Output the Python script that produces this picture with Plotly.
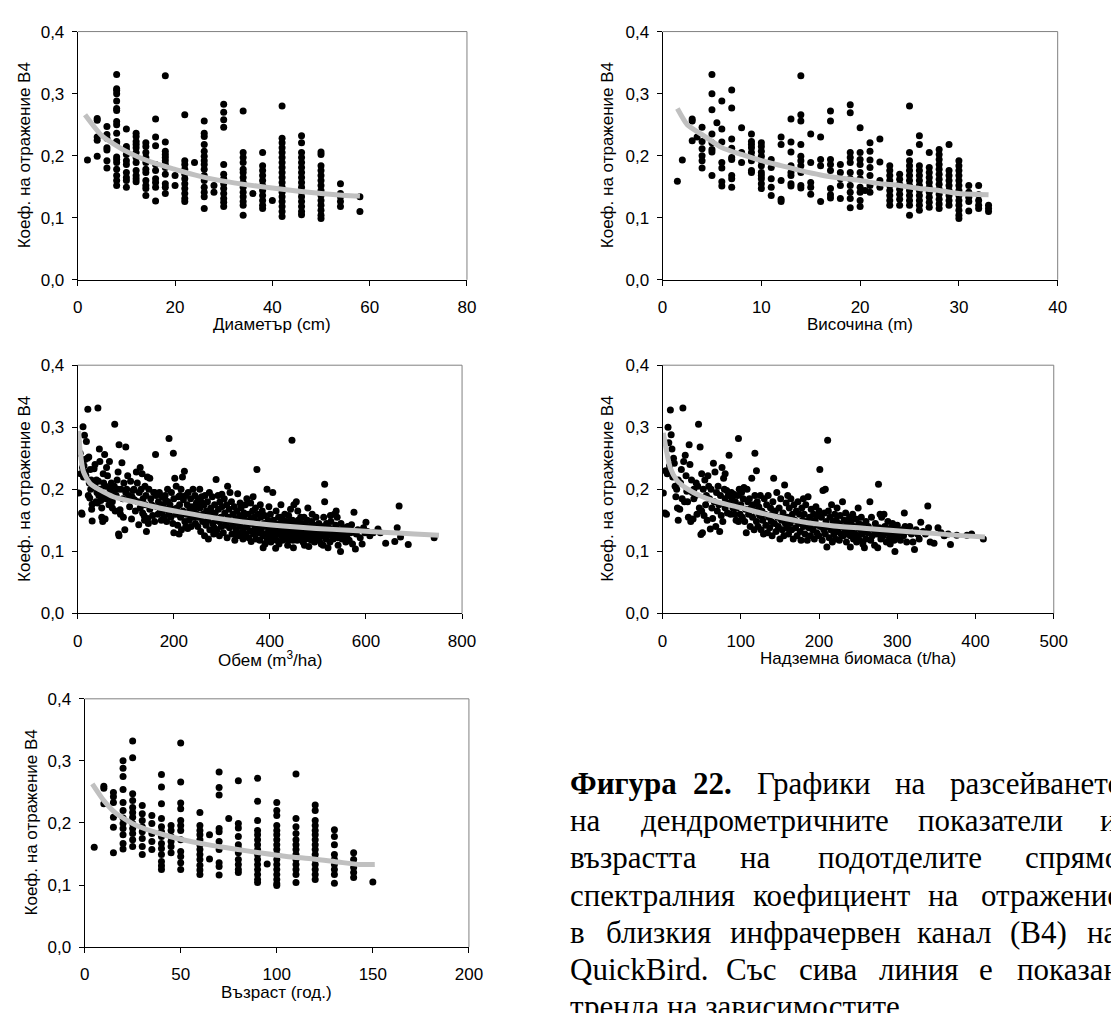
import plotly.graph_objects as go

W, H = 1111, 1013

# ---------------- DATA ----------------
# Panel 1: diameter (cm) columns
diam_cols = [2, 4, 6, 8, 10, 12, 14, 16, 18, 20, 22, 24, 26, 28, 30, 34, 36, 38, 40, 42, 46, 50, 54, 58]
diam_vals = [
    [0.193],
    [0.26, 0.257, 0.23, 0.225, 0.199],
    [0.247, 0.234, 0.228, 0.213, 0.209, 0.192, 0.18],
    [0.331, 0.308, 0.305, 0.30, 0.288, 0.276, 0.273, 0.255, 0.25, 0.236, 0.223, 0.221, 0.198, 0.194, 0.189, 0.178, 0.168, 0.16, 0.152],
    [0.243, 0.215, 0.21, 0.202, 0.192, 0.186, 0.173, 0.165, 0.16, 0.149],
    [0.236, 0.231, 0.223, 0.218, 0.213, 0.205, 0.197, 0.189, 0.176, 0.168, 0.163, 0.158],
    [0.221, 0.215, 0.205, 0.197, 0.189, 0.178, 0.173, 0.16, 0.152, 0.147, 0.136],
    [0.259, 0.23, 0.216, 0.186, 0.176, 0.163, 0.157, 0.149, 0.127],
    [0.329, 0.222, 0.207, 0.202, 0.197, 0.192, 0.186, 0.181, 0.17, 0.155, 0.149, 0.139],
    [0.168, 0.152],
    [0.266, 0.192, 0.186, 0.178, 0.17, 0.163, 0.155, 0.147, 0.139, 0.131, 0.126],
    [0.189],
    [0.256, 0.236, 0.231, 0.218, 0.207, 0.199, 0.192, 0.186, 0.178, 0.168, 0.16, 0.149, 0.141, 0.134, 0.115],
    [0.152, 0.141],
    [0.283, 0.27, 0.258, 0.246, 0.186, 0.17, 0.163, 0.155, 0.147, 0.139, 0.131, 0.125, 0.118],
    [0.272, 0.205, 0.197, 0.189, 0.178, 0.173, 0.165, 0.157, 0.149, 0.141, 0.134, 0.126, 0.12, 0.104],
    [0.139],
    [0.205, 0.184, 0.176, 0.168, 0.16, 0.152, 0.144, 0.136, 0.128, 0.12, 0.115],
    [0.128],
    [0.28, 0.228, 0.221, 0.213, 0.205, 0.197, 0.189, 0.181, 0.173, 0.165, 0.157, 0.149, 0.141, 0.134, 0.126, 0.118, 0.11, 0.102],
    [0.232, 0.221, 0.205, 0.197, 0.189, 0.181, 0.173, 0.165, 0.157, 0.149, 0.141, 0.134, 0.126, 0.118, 0.11, 0.105],
    [0.206, 0.202, 0.184, 0.176, 0.168, 0.16, 0.152, 0.144, 0.136, 0.128, 0.12, 0.112, 0.104, 0.099],
    [0.155, 0.139, 0.134, 0.126, 0.118],
    [0.134, 0.11],
]
diam_trend_x = [1.5, 5, 10, 15, 20, 25, 30, 35, 40, 45, 50, 55, 58]
diam_trend_y = [0.266, 0.232, 0.207, 0.19, 0.178, 0.167, 0.159, 0.153, 0.148, 0.143, 0.139, 0.136, 0.135]

# Panel 2: height (m) columns
height_cols = [1.5, 2, 3, 3.5, 4, 5, 5.5, 6, 7, 8, 9, 10, 11, 12, 13, 14, 15, 16, 17, 18, 19, 20, 20.5,
               21, 22, 23, 24, 25, 26, 27, 28, 29, 30, 31, 32, 33]
height_vals = [
    [0.159],
    [0.193],
    [0.259, 0.256, 0.224],
    [0.23],
    [0.246, 0.223, 0.211, 0.2, 0.192, 0.18],
    [0.331, 0.30, 0.274, 0.235, 0.221, 0.21, 0.206, 0.168],
    [0.253],
    [0.288, 0.243, 0.222, 0.189, 0.18, 0.158, 0.151],
    [0.306, 0.277, 0.227, 0.212, 0.197, 0.194, 0.168, 0.163, 0.149],
    [0.245, 0.205, 0.189],
    [0.235, 0.223, 0.218, 0.213, 0.205, 0.198, 0.192, 0.176, 0.173],
    [0.221, 0.215, 0.207, 0.199, 0.192, 0.184, 0.173, 0.168, 0.163, 0.155, 0.147],
    [0.194, 0.181, 0.163, 0.149, 0.136],
    [0.23, 0.218, 0.16, 0.13, 0.126],
    [0.259, 0.222, 0.206, 0.184, 0.173, 0.168, 0.155, 0.151],
    [0.329, 0.266, 0.256, 0.218, 0.199, 0.192, 0.184, 0.173, 0.152, 0.148],
    [0.235, 0.189, 0.157, 0.149, 0.138],
    [0.23, 0.194, 0.184, 0.126],
    [0.272, 0.256, 0.194, 0.186, 0.176, 0.147, 0.137, 0.132],
    [0.186, 0.173, 0.163, 0.152, 0.131],
    [0.282, 0.269, 0.205, 0.197, 0.189, 0.173, 0.163, 0.152, 0.141, 0.131, 0.116],
    [0.245, 0.205, 0.194, 0.186, 0.173, 0.163, 0.149, 0.141, 0.128, 0.118],
    [0.144],
    [0.221, 0.207, 0.193, 0.181, 0.168, 0.152, 0.141],
    [0.227, 0.19, 0.16, 0.149],
    [0.184, 0.176, 0.168, 0.16, 0.152, 0.144, 0.136, 0.128, 0.12],
    [0.17, 0.162, 0.154, 0.146, 0.138, 0.13, 0.12],
    [0.28, 0.205, 0.192, 0.184, 0.176, 0.168, 0.16, 0.152, 0.144, 0.136, 0.128, 0.12, 0.104],
    [0.232, 0.218, 0.184, 0.176, 0.168, 0.16, 0.152, 0.144, 0.136, 0.128, 0.12, 0.112],
    [0.205, 0.181, 0.173, 0.165, 0.157, 0.149, 0.141, 0.133, 0.125, 0.117],
    [0.21, 0.202, 0.194, 0.186, 0.178, 0.17, 0.162, 0.154, 0.146, 0.138, 0.13, 0.122, 0.115],
    [0.218, 0.176, 0.168, 0.16, 0.152, 0.144, 0.136, 0.128, 0.12],
    [0.192, 0.184, 0.176, 0.168, 0.16, 0.152, 0.144, 0.136, 0.128, 0.12, 0.112, 0.104, 0.099],
    [0.152, 0.141, 0.133, 0.126, 0.111],
    [0.152, 0.137, 0.128, 0.12, 0.115],
    [0.12, 0.115, 0.11],
]
height_trend_x = [1.5, 2.5, 4, 6, 8, 10, 12, 14, 16, 18, 20, 22, 24, 26, 28, 30, 33]
height_trend_y = [0.276, 0.25, 0.234, 0.213, 0.202, 0.192, 0.184, 0.176, 0.169, 0.164, 0.16, 0.155, 0.152, 0.147, 0.144, 0.139, 0.137]

# Panel 3: volume (m3/ha)
vol_x = [
    2, 5, 6, 8, 9, 10, 11, 12, 14, 15, 16, 18, 20, 21, 22, 23, 24, 26, 27, 28, 30, 30, 29, 25, 17, 13,
    32, 34, 36, 38, 40, 42, 43, 45, 46, 47, 48, 50, 50, 52, 53, 54, 55, 56, 57, 58, 60, 36, 41, 44, 59, 39,
    62, 64, 66, 67, 68, 70, 72, 74, 76, 77, 78, 80, 82, 84, 85, 86, 86, 88, 89, 90, 92, 94, 95, 96, 98, 100, 100, 72, 65, 83,
    102, 104, 106, 108, 110, 112, 115, 118, 120, 122, 124, 125, 127, 128, 130, 130, 132, 134, 135, 136, 138, 140, 141, 142, 143, 145, 146, 147, 148, 150, 150, 113, 117, 139,
    152, 154, 156, 158, 160, 162, 163, 165, 167, 168, 170, 172, 174, 176, 178, 180, 182, 184, 185, 187, 188, 190, 190, 192, 194, 195, 197, 198, 199, 200, 200, 160, 176, 183,
    202, 204, 205, 206, 208, 210, 211, 212, 214, 215, 216, 218, 219, 220, 222, 223, 225, 226, 228, 229, 230, 232, 233, 235, 236, 238, 240, 241, 243, 244, 245, 247, 248, 250, 250, 225, 213, 237, 246,
    252, 254, 255, 256, 258, 260, 261, 263, 264, 265, 267, 268, 270, 271, 272, 274, 275, 277, 278, 280, 281, 283, 285, 286, 288, 289, 290, 292, 293, 295, 296, 298, 299, 300, 300, 259, 276, 284, 294,
    302, 303, 305, 306, 308, 310, 311, 312, 313, 315, 316, 318, 320, 321, 323, 324, 326, 327, 329, 330, 331, 333, 334, 336, 337, 339, 340, 341, 343, 344, 346, 347, 349, 350, 350, 317, 328, 338, 345,
    352, 353, 355, 356, 358, 359, 360, 361, 363, 364, 366, 367, 369, 370, 371, 373, 373, 375, 376, 378, 379, 381, 382, 384, 385, 386, 388, 389, 391, 392, 394, 394, 396, 397, 398, 399, 400, 365, 380, 390,
    401, 402, 404, 405, 406, 407, 409, 410, 411, 413, 414, 415, 416, 418, 419, 420, 421, 423, 424, 425, 426, 428, 429, 430, 431, 433, 434, 435, 436, 438, 439, 440, 441, 443, 444, 445, 446, 447, 448, 449, 450, 450, 412, 422, 437, 442,
    452, 453, 455, 456, 457, 459, 460, 461, 463, 464, 465, 466, 468, 469, 470, 471, 473, 474, 475, 477, 478, 479, 480, 481, 483, 484, 486, 487, 489, 490, 492, 493, 495, 496, 497, 499, 500, 458, 472, 488,
    502, 503, 505, 507, 508, 510, 512, 514, 514, 515, 517, 518, 520, 521, 523, 525, 527, 528, 530, 532, 534, 535, 537, 538, 540, 541, 543, 545, 547, 548, 550, 511, 526, 542,
    553, 555, 558, 560, 562, 565, 568, 570, 572, 575, 578, 580, 583, 588, 592, 595, 598, 600, 603, 608, 615, 625, 630, 641, 660, 665, 669, 672, 688, 742,
]
vol_y = [
    0.194, 0.258, 0.225, 0.162, 0.16, 0.235, 0.301, 0.22, 0.287, 0.248, 0.228, 0.277, 0.25, 0.329, 0.19, 0.252, 0.21, 0.232, 0.2, 0.215, 0.176, 0.149, 0.168, 0.186, 0.222, 0.238,
    0.21, 0.233, 0.205, 0.18, 0.195, 0.331, 0.213, 0.265, 0.245, 0.2, 0.182, 0.17, 0.155, 0.148, 0.225, 0.21, 0.19, 0.256, 0.152, 0.205, 0.235, 0.24, 0.178, 0.19, 0.185, 0.215,
    0.222, 0.19, 0.245, 0.2, 0.185, 0.21, 0.17, 0.195, 0.205, 0.305, 0.165, 0.19, 0.215, 0.228, 0.128, 0.272, 0.125, 0.167, 0.16, 0.2, 0.243, 0.185, 0.155, 0.21, 0.135, 0.195, 0.268, 0.18, 0.175, 0.2,
    0.2, 0.222, 0.19, 0.172, 0.213, 0.152, 0.198, 0.183, 0.165, 0.228, 0.21, 0.18, 0.143, 0.195, 0.235, 0.17, 0.2, 0.225, 0.162, 0.185, 0.158, 0.205, 0.175, 0.19, 0.132, 0.22, 0.153, 0.145, 0.2, 0.218, 0.168, 0.188, 0.2, 0.15,
    0.185, 0.175, 0.158, 0.195, 0.148, 0.256, 0.19, 0.172, 0.16, 0.18, 0.195, 0.165, 0.15, 0.188, 0.175, 0.155, 0.19, 0.168, 0.148, 0.2, 0.18, 0.282, 0.16, 0.175, 0.155, 0.195, 0.168, 0.145, 0.258, 0.185, 0.13, 0.195, 0.162, 0.182,
    0.218, 0.16, 0.205, 0.17, 0.142, 0.188, 0.128, 0.175, 0.155, 0.2, 0.135, 0.22, 0.165, 0.183, 0.229, 0.148, 0.19, 0.16, 0.175, 0.137, 0.195, 0.15, 0.168, 0.185, 0.14, 0.172, 0.2, 0.155, 0.165, 0.19, 0.145, 0.178, 0.16, 0.185, 0.14, 0.14, 0.19, 0.158, 0.172,
    0.155, 0.2, 0.17, 0.132, 0.188, 0.148, 0.16, 0.175, 0.125, 0.19, 0.142, 0.165, 0.18, 0.15, 0.12, 0.195, 0.135, 0.17, 0.158, 0.188, 0.145, 0.128, 0.175, 0.162, 0.216, 0.15, 0.135, 0.19, 0.168, 0.125, 0.18, 0.155, 0.14, 0.172, 0.192, 0.178, 0.16, 0.138, 0.148,
    0.15, 0.13, 0.185, 0.162, 0.142, 0.175, 0.122, 0.205, 0.155, 0.168, 0.138, 0.148, 0.18, 0.128, 0.16, 0.142, 0.172, 0.118, 0.152, 0.135, 0.165, 0.193, 0.145, 0.125, 0.158, 0.14, 0.17, 0.13, 0.15, 0.12, 0.162, 0.138, 0.175, 0.148, 0.128, 0.195, 0.128, 0.178, 0.155,
    0.185, 0.14, 0.16, 0.122, 0.15, 0.133, 0.178, 0.116, 0.145, 0.165, 0.128, 0.155, 0.138, 0.17, 0.12, 0.232, 0.148, 0.16, 0.13, 0.142, 0.118, 0.155, 0.135, 0.165, 0.125, 0.106, 0.145, 0.158, 0.128, 0.14, 0.2, 0.118, 0.15, 0.132, 0.172, 0.124, 0.143, 0.188, 0.175, 0.112,
    0.16, 0.115, 0.138, 0.128, 0.195, 0.15, 0.122, 0.145, 0.135, 0.165, 0.118, 0.14, 0.128, 0.155, 0.112, 0.132, 0.145, 0.175, 0.125, 0.138, 0.118, 0.15, 0.13, 0.142, 0.16, 0.122, 0.135, 0.148, 0.128, 0.118, 0.158, 0.132, 0.142, 0.168, 0.125, 0.138, 0.279, 0.15, 0.118, 0.106, 0.132, 0.175, 0.105, 0.155, 0.11, 0.148,
    0.145, 0.125, 0.18, 0.138, 0.118, 0.15, 0.13, 0.142, 0.122, 0.155, 0.135, 0.128, 0.145, 0.115, 0.138, 0.155, 0.128, 0.142, 0.12, 0.135, 0.15, 0.17, 0.125, 0.108, 0.14, 0.13, 0.118, 0.148, 0.135, 0.125, 0.142, 0.115, 0.13, 0.155, 0.12, 0.138, 0.128, 0.165, 0.11, 0.16,
    0.145, 0.118, 0.132, 0.112, 0.14, 0.125, 0.155, 0.208, 0.18, 0.135, 0.12, 0.145, 0.128, 0.106, 0.138, 0.115, 0.148, 0.125, 0.135, 0.12, 0.16, 0.13, 0.142, 0.165, 0.155, 0.122, 0.135, 0.128, 0.1, 0.145, 0.12, 0.11, 0.158, 0.11,
    0.13, 0.138, 0.115, 0.125, 0.14, 0.118, 0.13, 0.143, 0.112, 0.163, 0.104, 0.128, 0.135, 0.122, 0.112, 0.138, 0.13, 0.147, 0.132, 0.125, 0.13, 0.136, 0.13, 0.113, 0.116, 0.138, 0.173, 0.123, 0.111, 0.122,
]
vol_trend_x = [2, 5, 12, 26, 46, 74, 121, 169, 224, 285, 360, 428, 497, 565, 633, 701, 752]
vol_trend_y = [0.294, 0.262, 0.228, 0.209, 0.199, 0.188, 0.179, 0.17, 0.162, 0.154, 0.146, 0.141, 0.137, 0.134, 0.131, 0.128, 0.126]

# Panel 4: aboveground biomass (t/ha)
bio_x = [
    1, 3, 4, 5, 6, 7, 8, 9, 10, 11, 12, 13, 14, 15, 16, 17, 18, 19, 20, 20,
    22, 23, 24, 25, 26, 27, 28, 29, 30, 31, 32, 33, 34, 35, 36, 37, 38, 39, 40, 40,
    42, 43, 44, 45, 46, 47, 48, 49, 50, 50, 51, 52, 53, 54, 55, 56, 57, 58, 59, 60,
    61, 62, 63, 64, 65, 66, 67, 68, 69, 70, 71, 72, 73, 74, 75, 76, 77, 78, 79, 80, 80, 80,
    82, 83, 84, 85, 86, 87, 88, 89, 90, 91, 92, 93, 94, 95, 96, 97, 97, 98, 99, 100,
    101, 102, 103, 104, 105, 106, 107, 108, 109, 110, 111, 112, 113, 114, 115, 116, 117, 118, 118, 119, 120, 120,
    121, 122, 123, 124, 125, 126, 127, 128, 129, 130, 131, 132, 133, 134, 135, 136, 137, 138, 139, 140, 140,
    141, 142, 143, 144, 145, 146, 147, 148, 149, 150, 151, 152, 153, 154, 155, 156, 157, 158, 159, 160, 160,
    161, 162, 163, 164, 165, 166, 167, 168, 169, 170, 171, 172, 173, 174, 175, 176, 177, 178, 179, 180, 180,
    181, 182, 183, 184, 185, 186, 187, 188, 189, 190, 191, 192, 193, 194, 195, 196, 197, 198, 199, 200, 200,
    201, 202, 203, 204, 205, 206, 207, 208, 208, 209, 210, 211, 211, 212, 213, 214, 215, 216, 217, 218, 219, 220, 220,
    221, 222, 223, 224, 225, 226, 227, 228, 229, 230, 231, 232, 233, 234, 235, 236, 237, 238, 239, 240, 240,
    241, 242, 243, 244, 245, 246, 247, 248, 249, 250, 250, 251, 252, 253, 254, 255, 256, 257, 258, 259, 260, 260,
    262, 263, 265, 266, 267, 268, 270, 271, 272, 274, 275, 276, 277, 278, 279, 280, 280,
    282, 283, 284, 286, 287, 288, 290, 291, 292, 294, 295, 296, 297, 298, 300, 300,
    302, 304, 306, 308, 309, 310, 312, 314, 316, 318, 320, 322, 324, 326, 328, 330, 333, 336, 339, 340, 342, 347, 352, 356, 360, 365, 368, 376, 389, 395, 410,
]
bio_y = [
    0.194, 0.162, 0.23, 0.16, 0.225, 0.3, 0.275, 0.238, 0.328, 0.288, 0.265, 0.22, 0.25, 0.242, 0.205, 0.188, 0.2, 0.17, 0.15, 0.215,
    0.168, 0.21, 0.232, 0.185, 0.331, 0.245, 0.18, 0.255, 0.222, 0.197, 0.18, 0.155, 0.272, 0.24, 0.148, 0.215, 0.195, 0.152, 0.185, 0.2,
    0.19, 0.21, 0.16, 0.205, 0.305, 0.17, 0.268, 0.127, 0.165, 0.225, 0.13, 0.2, 0.158, 0.215, 0.175, 0.19, 0.15, 0.222, 0.205, 0.185,
    0.136, 0.2, 0.17, 0.153, 0.242, 0.18, 0.228, 0.14, 0.195, 0.165, 0.205, 0.175, 0.132, 0.19, 0.158, 0.235, 0.148, 0.218, 0.2, 0.185, 0.225, 0.17,
    0.198, 0.162, 0.19, 0.255, 0.178, 0.16, 0.195, 0.185, 0.17, 0.192, 0.16, 0.18, 0.15, 0.17, 0.19, 0.282, 0.148, 0.2, 0.16, 0.175,
    0.195, 0.155, 0.185, 0.203, 0.148, 0.168, 0.13, 0.2, 0.18, 0.16, 0.185, 0.14, 0.17, 0.218, 0.155, 0.175, 0.135, 0.258, 0.19, 0.165, 0.148, 0.23,
    0.18, 0.14, 0.172, 0.158, 0.19, 0.135, 0.165, 0.15, 0.128, 0.185, 0.16, 0.142, 0.175, 0.13, 0.19, 0.155, 0.138, 0.17, 0.148, 0.16, 0.125,
    0.18, 0.218, 0.145, 0.165, 0.132, 0.195, 0.155, 0.14, 0.17, 0.12, 0.185, 0.15, 0.135, 0.162, 0.125, 0.207, 0.145, 0.178, 0.138, 0.155, 0.19,
    0.128, 0.17, 0.145, 0.185, 0.135, 0.16, 0.12, 0.175, 0.15, 0.138, 0.165, 0.125, 0.18, 0.145, 0.16, 0.132, 0.118, 0.17, 0.15, 0.14, 0.185,
    0.16, 0.128, 0.175, 0.148, 0.118, 0.188, 0.138, 0.155, 0.125, 0.168, 0.145, 0.135, 0.16, 0.12, 0.15, 0.172, 0.13, 0.142, 0.158, 0.125, 0.165,
    0.232, 0.14, 0.155, 0.118, 0.198, 0.135, 0.162, 0.2, 0.128, 0.148, 0.107, 0.279, 0.14, 0.165, 0.122, 0.155, 0.135, 0.175, 0.115, 0.148, 0.128, 0.16, 0.138,
    0.12, 0.15, 0.17, 0.132, 0.145, 0.118, 0.158, 0.128, 0.14, 0.18, 0.125, 0.15, 0.135, 0.162, 0.115, 0.145, 0.128, 0.138, 0.155, 0.107, 0.125,
    0.148, 0.132, 0.16, 0.12, 0.14, 0.128, 0.152, 0.115, 0.138, 0.17, 0.125, 0.145, 0.118, 0.135, 0.155, 0.128, 0.112, 0.142, 0.106, 0.132, 0.12, 0.148,
    0.13, 0.14, 0.18, 0.118, 0.155, 0.125, 0.135, 0.11, 0.145, 0.128, 0.106, 0.208, 0.138, 0.16, 0.12, 0.132, 0.155,
    0.125, 0.16, 0.14, 0.115, 0.13, 0.148, 0.122, 0.112, 0.138, 0.145, 0.128, 0.118, 0.1, 0.135, 0.125, 0.142,
    0.13, 0.118, 0.135, 0.125, 0.162, 0.14, 0.115, 0.132, 0.14, 0.128, 0.115, 0.103, 0.135, 0.128, 0.12, 0.147, 0.132, 0.128, 0.173, 0.138, 0.115, 0.113, 0.138, 0.13, 0.125, 0.128, 0.111, 0.126, 0.126, 0.128, 0.12,
]
bio_trend_x = [1, 5, 10, 18, 30, 51, 72, 101, 135, 177, 219, 261, 303, 345, 387, 412]
bio_trend_y = [0.291, 0.262, 0.234, 0.215, 0.202, 0.188, 0.179, 0.17, 0.159, 0.148, 0.141, 0.137, 0.133, 0.129, 0.125, 0.123]

# Panel 5: age (years) columns
age_cols = [5, 10, 15, 20, 25, 30, 35, 40, 45, 50, 60, 65, 70, 75, 80, 90, 95, 100, 110, 120, 130, 140, 150]
age_vals = [
    [0.161],
    [0.259, 0.256, 0.231],
    [0.249, 0.242, 0.233, 0.209, 0.193, 0.152],
    [0.3, 0.288, 0.275, 0.254, 0.233, 0.22, 0.208, 0.199, 0.191, 0.181, 0.167, 0.158],
    [0.332, 0.305, 0.247, 0.236, 0.225, 0.217, 0.209, 0.199, 0.191, 0.183, 0.173, 0.162],
    [0.228, 0.215, 0.204, 0.194, 0.186, 0.175, 0.162, 0.149],
    [0.212, 0.199, 0.183, 0.17, 0.157],
    [0.278, 0.258, 0.231, 0.207, 0.194, 0.186, 0.178, 0.167, 0.159, 0.149, 0.138, 0.131, 0.125],
    [0.196, 0.188, 0.178, 0.17, 0.162, 0.152],
    [0.329, 0.266, 0.232, 0.223, 0.204, 0.196, 0.188, 0.173, 0.154, 0.146, 0.136, 0.125],
    [0.217, 0.196, 0.188, 0.181, 0.173, 0.165, 0.157, 0.149, 0.141, 0.132, 0.124, 0.117],
    [0.181, 0.142],
    [0.282, 0.257, 0.245, 0.191, 0.186, 0.17, 0.157, 0.136, 0.13, 0.116],
    [0.207],
    [0.268, 0.199, 0.192, 0.178, 0.165, 0.159, 0.152, 0.141, 0.133, 0.125, 0.12],
    [0.272, 0.235, 0.204, 0.188, 0.181, 0.173, 0.165, 0.157, 0.149, 0.141, 0.133, 0.125, 0.117, 0.109, 0.104],
    [0.134],
    [0.233, 0.22, 0.212, 0.196, 0.188, 0.181, 0.173, 0.165, 0.157, 0.149, 0.141, 0.133, 0.125, 0.117, 0.109, 0.102, 0.099],
    [0.279, 0.207, 0.194, 0.183, 0.173, 0.165, 0.157, 0.149, 0.141, 0.133, 0.125, 0.117, 0.104],
    [0.229, 0.22, 0.204, 0.196, 0.188, 0.181, 0.173, 0.165, 0.157, 0.149, 0.141, 0.133, 0.125, 0.117, 0.109],
    [0.189, 0.178, 0.165, 0.149, 0.141, 0.133, 0.125, 0.117, 0.103],
    [0.152, 0.141, 0.128, 0.12, 0.112],
    [0.105],
]
age_trend_x = [4, 10, 16.5, 27, 39, 51, 64, 78, 91, 105, 119, 132, 143, 151]
age_trend_y = [0.263, 0.236, 0.215, 0.196, 0.183, 0.173, 0.165, 0.158, 0.152, 0.146, 0.142, 0.137, 0.133, 0.133]

y_title = "Коеф. на отражение В4"
y_ticks = [0, 0.1, 0.2, 0.3, 0.4]

caption_lines = [
    ["<b>Фигура</b>", "<b>22.</b>", "Графики", "на", "разсейването"],
    ["на", "дендрометричните", "показатели", "и"],
    ["възрастта", "на", "подотделите", "спрямо"],
    ["спектралния", "коефициент", "на", "отражение"],
    ["в", "близкия", "инфрачервен", "канал", "(B4)", "на"],
    ["QuickBird.", "Със", "сива", "линия", "е", "показан"],
    ["тренда на зависимостите."],
]


def expand(cols, vals):
    xs, ys = [], []
    for c, v in zip(cols, vals):
        for yy in v:
            xs.append(c)
            ys.append(yy)
    return xs, ys


# approximate serif glyph advances (em), used only to justify the caption text
EM = {c: 0.5 for c in "бдкорухчQ"}
EM.update({"а": .444, "в": .472, "г": .402, "е": .444, "ж": .7, "з": .395, "и": .535, "й": .535,
           "л": .5, "м": .62, "н": .535, "п": .535, "с": .444, "т": .444, "ф": .65, "ц": .535,
           "ш": .77, "щ": .77, "ъ": .52, "ы": .7, "ь": .47, "ю": .72, "я": .48, "Г": .61, "Ф": .77,
           "С": .667, "B": .667, "Q": .722, "u": .5, "i": .278, "c": .444, "k": .5, "r": .333,
           "d": .5, ".": .25, " ": .25, "(": .333, ")": .333, "4": .5, "2": .5})


def text_w(s, fs):
    bold = s.startswith("<b>")
    s = s.replace("<b>", "").replace("</b>", "")
    return sum(EM.get(ch, 0.5) for ch in s) * fs * (1.0 if bold else 0.97)


# ---------------- LAYOUT (pixel boxes) ----------------
panels = [
    dict(box=(74, 23, 470, 276), xr=80, dt=20, xt="Диаметър (cm)", ytx=20,
         pts=expand(diam_cols, diam_vals), tr=(diam_trend_x, diam_trend_y)),
    dict(box=(669, 23, 1071, 276), xr=40, dt=10, xt="Височина (m)", ytx=613,
         pts=expand(height_cols, height_vals), tr=(height_trend_x, height_trend_y)),
    dict(box=(74, 363, 465, 616), xr=800, dt=200, xt="Обем (m<sup>3</sup>/ha)", ytx=20,
         pts=(vol_x, vol_y), tr=(vol_trend_x, vol_trend_y)),
    dict(box=(669, 363, 1067, 616), xr=500, dt=100, xt="Надземна биомаса (t/ha)", ytx=613,
         pts=(bio_x, bio_y), tr=(bio_trend_x, bio_trend_y)),
    dict(box=(81, 703, 472, 956), xr=200, dt=50, xt="Възраст (год.)", ytx=27,
         pts=expand(age_cols, age_vals), tr=(age_trend_x, age_trend_y)),
]

SANS = "Liberation Sans, Arial, sans-serif"
SERIF = "Liberation Serif, Times New Roman, serif"
FS = 17

fig = go.Figure()
layout = dict(
    width=W, height=H, margin=dict(l=0, r=0, t=0, b=0),
    paper_bgcolor="white", plot_bgcolor="white", showlegend=False,
    separators=", ", font=dict(family=SANS, size=FS, color="black"),
)
shapes, annotations = [], []


def px(x):
    return x / W


def py(y):
    return 1 - y / H


for i, p in enumerate(panels, start=1):
    sfx = "" if i == 1 else str(i)
    x0, y0, x1, y1 = p["box"]
    xs, ys = p["pts"]
    fig.add_trace(go.Scatter(x=xs, y=ys, mode="markers", xaxis="x" + sfx, yaxis="y" + sfx,
                             marker=dict(color="black", size=7, line=dict(width=0)),
                             hoverinfo="skip"))
    fig.add_trace(go.Scatter(x=p["tr"][0], y=p["tr"][1], mode="lines", xaxis="x" + sfx, yaxis="y" + sfx,
                             line=dict(color="#C0C0C0", width=5, shape="spline", smoothing=0.6),
                             hoverinfo="skip"))
    layout["xaxis" + sfx] = dict(
        domain=[px(x0), px(x1)], anchor="y" + sfx, range=[0, p["xr"]], dtick=p["dt"], tick0=0,
        showline=True, linecolor="black", linewidth=1, ticks="outside", ticklen=5, tickcolor="black",
        showgrid=False, zeroline=False, ticklabelstandoff=7, tickfont=dict(size=FS),
    )
    layout["yaxis" + sfx] = dict(
        domain=[py(y1), py(y0)], anchor="x" + sfx, range=[0, 0.4], tickvals=y_ticks, tickformat=".1f",
        showline=True, linecolor="black", linewidth=1, ticks="outside", ticklen=5, tickcolor="black",
        showgrid=False, zeroline=False, ticklabelstandoff=4, tickfont=dict(size=FS),
    )
    shapes.append(dict(type="line", xref="x" + sfx + " domain", yref="y" + sfx + " domain",
                       x0=0, x1=1, y0=1, y1=1, line=dict(color="#808080", width=1)))
    shapes.append(dict(type="line", xref="x" + sfx + " domain", yref="y" + sfx + " domain",
                       x0=1, x1=1, y0=0, y1=1, line=dict(color="#808080", width=1)))
    annotations.append(dict(text=p["xt"], xref="paper", yref="paper", x=px((x0 + x1) / 2), y=py(y1 + 46),
                            xanchor="center", yanchor="middle", showarrow=False, font=dict(size=FS)))
    annotations.append(dict(text=y_title, xref="paper", yref="paper", x=px(p["ytx"]), y=py((y0 + y1) / 2),
                            xanchor="center", yanchor="middle", textangle=-90, showarrow=False,
                            font=dict(size=FS)))

# caption: justified block from x=573 to a right edge just past the page border
CAP_FS = 31
CAP_L, CAP_R = 573, 1128
for li, words in enumerate(caption_lines):
    base = 800 + 38 * li
    widths = [text_w(w, CAP_FS) for w in words]
    if len(words) > 1 and li < len(caption_lines) - 1:
        gap = (CAP_R - CAP_L - sum(widths)) / (len(words) - 1)
    else:
        gap = text_w(" ", CAP_FS)
    xx = CAP_L
    for w, wd in zip(words, widths):
        annotations.append(dict(text=w, xref="paper", yref="paper", x=px(xx), y=py(base - 11),
                                xanchor="left", yanchor="middle", showarrow=False,
                                font=dict(family=SERIF, size=CAP_FS, color="black")))
        xx += wd + gap

layout["shapes"] = shapes
layout["annotations"] = annotations
fig.update_layout(**layout)
fig.write_html("out.html")
